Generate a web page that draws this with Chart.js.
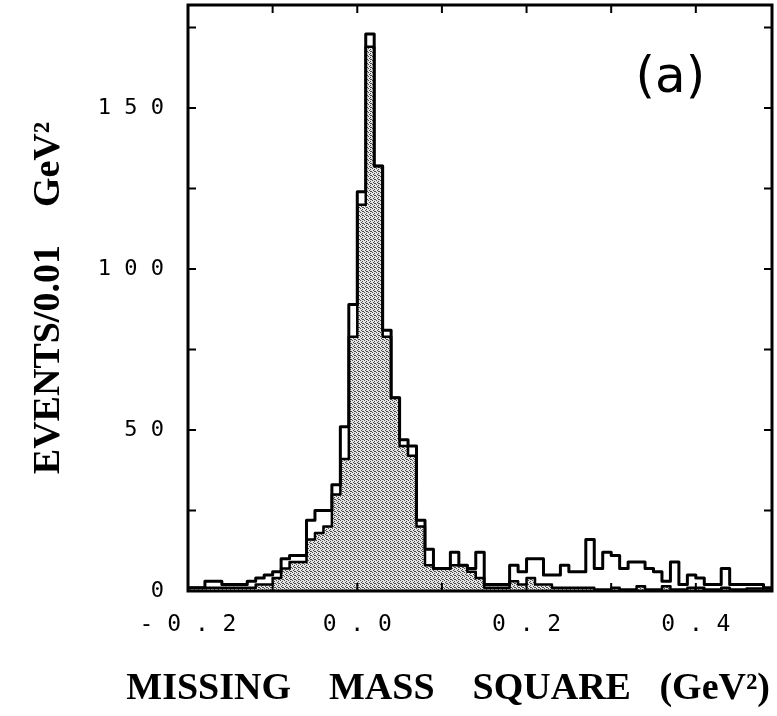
<!DOCTYPE html>
<html>
<head>
<meta charset="utf-8">
<script src="https://cdn.jsdelivr.net/npm/chart.js@4.4.0/dist/chart.umd.min.js"></script>
<style>
  html, body { margin: 0; padding: 0; background: #fff; }
  #wrap { width: 777px; height: 716px; }
</style>
</head>
<body>
<div id="wrap"><canvas id="grafico"></canvas></div>
<script>
// Histogram bins, 0.01 GeV^2 wide, first bin starts at -0.20
const binStart = -0.20;
const binWidth = 0.01;

// all events (open histogram)
const allEvents = [
  1, 1, 3, 3, 2, 2, 2, 3,
  4, 5, 6, 10, 11, 11, 22, 25, 25, 33, 51, 89,
  124, 173, 132, 81, 60, 47, 45, 22, 13, 7,
  7, 12, 8, 7, 12, 2, 2, 2, 8, 6,
  10, 10, 5, 5, 8, 6, 6, 16, 7, 12,
  11, 7, 9, 9, 7, 6, 3, 9, 2, 5,
  4, 2, 2, 7, 2, 2, 2, 2, 1
];

// selected events (shaded histogram)
const selectedEvents = [
  1, 1, 1, 1, 1, 1, 1, 1,
  2, 2, 4, 7, 9, 9, 16, 18, 20, 30, 41, 79,
  120, 169, 132, 79, 60, 45, 42, 20, 8, 7,
  7, 8, 8, 6, 4, 1, 1, 1, 3, 2,
  4, 2, 2, 1, 1, 1, 1, 1, 0.5, 0.5,
  1, 0.5, 0.5, 1.5, 0.5, 0.5, 1.5, 0.5, 0.5, 1,
  1, 0.5, 0.5, 1, 0.5, 0.5, 0.8, 0.8, 0.8
];

const xLabelValues = [-0.2, 0.0, 0.2, 0.4];
const xLabelTexts = ['- 0 . 2', '0 . 0', '0 . 2', '0 . 4'];
const yLabelValues = [0, 50, 100, 150];
const yLabelTexts = ['0', '5 0', '1 0 0', '1 5 0'];

const xTitle = 'MISSING    MASS    SQUARE   (GeV\u00B2)';
const yTitle = 'EVENTS/0.01    GeV\u00B2';
const panelLabel = '(a)';

// left edges + closing right edge, for a stepped line
function stepPoints(values) {
  const pts = values.map((v, i) => ({ x: +(binStart + i * binWidth).toFixed(3), y: v }));
  pts.push({ x: +(binStart + values.length * binWidth).toFixed(3), y: values[values.length - 1] });
  return pts;
}

function stipple() {
  const c = document.createElement('canvas');
  c.width = 4; c.height = 4;
  const g = c.getContext('2d');
  g.fillStyle = '#e4e4e4';
  g.fillRect(0, 0, 4, 4);
  g.fillStyle = '#4a4a4a';
  [[0, 0], [2, 1], [1, 2], [3, 3], [2, 3]].forEach(p => g.fillRect(p[0], p[1], 1, 1));
  return g.createPattern(c, 'repeat');
}

function labelFor(values, texts, v) {
  const i = values.findIndex(t => Math.abs(t - v) < 1e-6);
  return i >= 0 ? texts[i] : '';
}

// frame with inward ticks, the panel label and the x title
// (the x title is wider than the plot, so the scale title would squeeze it)
const framePlugin = {
  id: 'frame',
  afterDraw(chart) {
    const { ctx, chartArea: a, scales } = chart;
    ctx.save();
    ctx.strokeStyle = '#000';
    ctx.lineWidth = 3;
    ctx.strokeRect(a.left, a.top, a.right - a.left, a.bottom - a.top);
    ctx.lineWidth = 2;
    ctx.beginPath();
    scales.x.ticks.forEach(t => {
      const px = scales.x.getPixelForValue(t.value);
      if (px <= a.left + 1 || px >= a.right - 1) return;
      ctx.moveTo(px, a.top); ctx.lineTo(px, a.top + 8);
      ctx.moveTo(px, a.bottom); ctx.lineTo(px, a.bottom - 8);
    });
    scales.y.ticks.forEach(t => {
      const py = scales.y.getPixelForValue(t.value);
      if (py >= a.bottom - 1 || py <= a.top + 1) return;
      ctx.moveTo(a.left, py); ctx.lineTo(a.left + 8, py);
      ctx.moveTo(a.right, py); ctx.lineTo(a.right - 8, py);
    });
    ctx.stroke();

    ctx.fillStyle = '#000';
    ctx.font = '50px "DejaVu Sans"';
    ctx.textAlign = 'center';
    ctx.textBaseline = 'middle';
    ctx.fillText(panelLabel, scales.x.getPixelForValue(0.37), scales.y.getPixelForValue(159));

    ctx.font = 'bold 38px "Liberation Serif"';
    ctx.textAlign = 'right';
    ctx.fillText(xTitle, a.right - 2, a.bottom + 98);
    ctx.restore();
  }
};

const ctx = document.getElementById('grafico');

new Chart(ctx, {
  type: 'line',
  data: {
    datasets: [
      {
        label: 'all',
        data: stepPoints(allEvents),
        stepped: 'before',
        borderColor: '#000',
        borderWidth: 3,
        borderJoinStyle: 'round',
        pointRadius: 0,
        fill: false,
        order: 0,
        clip: false
      },
      {
        label: 'selected',
        data: stepPoints(selectedEvents),
        stepped: 'before',
        borderColor: '#000',
        borderWidth: 2.5,
        borderJoinStyle: 'round',
        backgroundColor: stipple(),
        pointRadius: 0,
        fill: 'origin',
        order: 1,
        clip: false
      }
    ]
  },
  options: {
    responsive: true,
    maintainAspectRatio: false,
    animation: false,
    layout: { padding: { top: 5, right: 5, left: 0, bottom: 0 } },
    plugins: {
      legend: { display: false },
      tooltip: { enabled: false }
    },
    scales: {
      x: {
        type: 'linear',
        min: -0.2,
        max: 0.49,
        afterFit: s => { s.height = 125; s.paddingLeft = 0; s.paddingRight = 0; },
        grid: { display: false },
        border: { display: false },
        ticks: {
          stepSize: 0.1,
          includeBounds: false,
          autoSkip: false,
          maxRotation: 0,
          padding: 12,
          color: '#000',
          font: { family: '"DejaVu Sans Mono"', size: 23 },
          callback: v => labelFor(xLabelValues, xLabelTexts, v)
        }
      },
      y: {
        min: 0,
        max: 182,
        afterFit: s => { s.width = 188; s.paddingTop = 0; s.paddingBottom = 0; },
        grid: { display: false },
        border: { display: false },
        ticks: {
          stepSize: 25,
          includeBounds: false,
          padding: 16,
          color: '#000',
          font: { family: '"DejaVu Sans Mono"', size: 22 },
          callback: v => labelFor(yLabelValues, yLabelTexts, v)
        },
        title: {
          display: true,
          text: yTitle,
          color: '#000',
          font: { family: '"Liberation Serif"', size: 38, weight: 'bold' },
          padding: { top: 26, bottom: 0 }
        }
      }
    }
  },
  plugins: [framePlugin]
});
</script>
</body>
</html>
